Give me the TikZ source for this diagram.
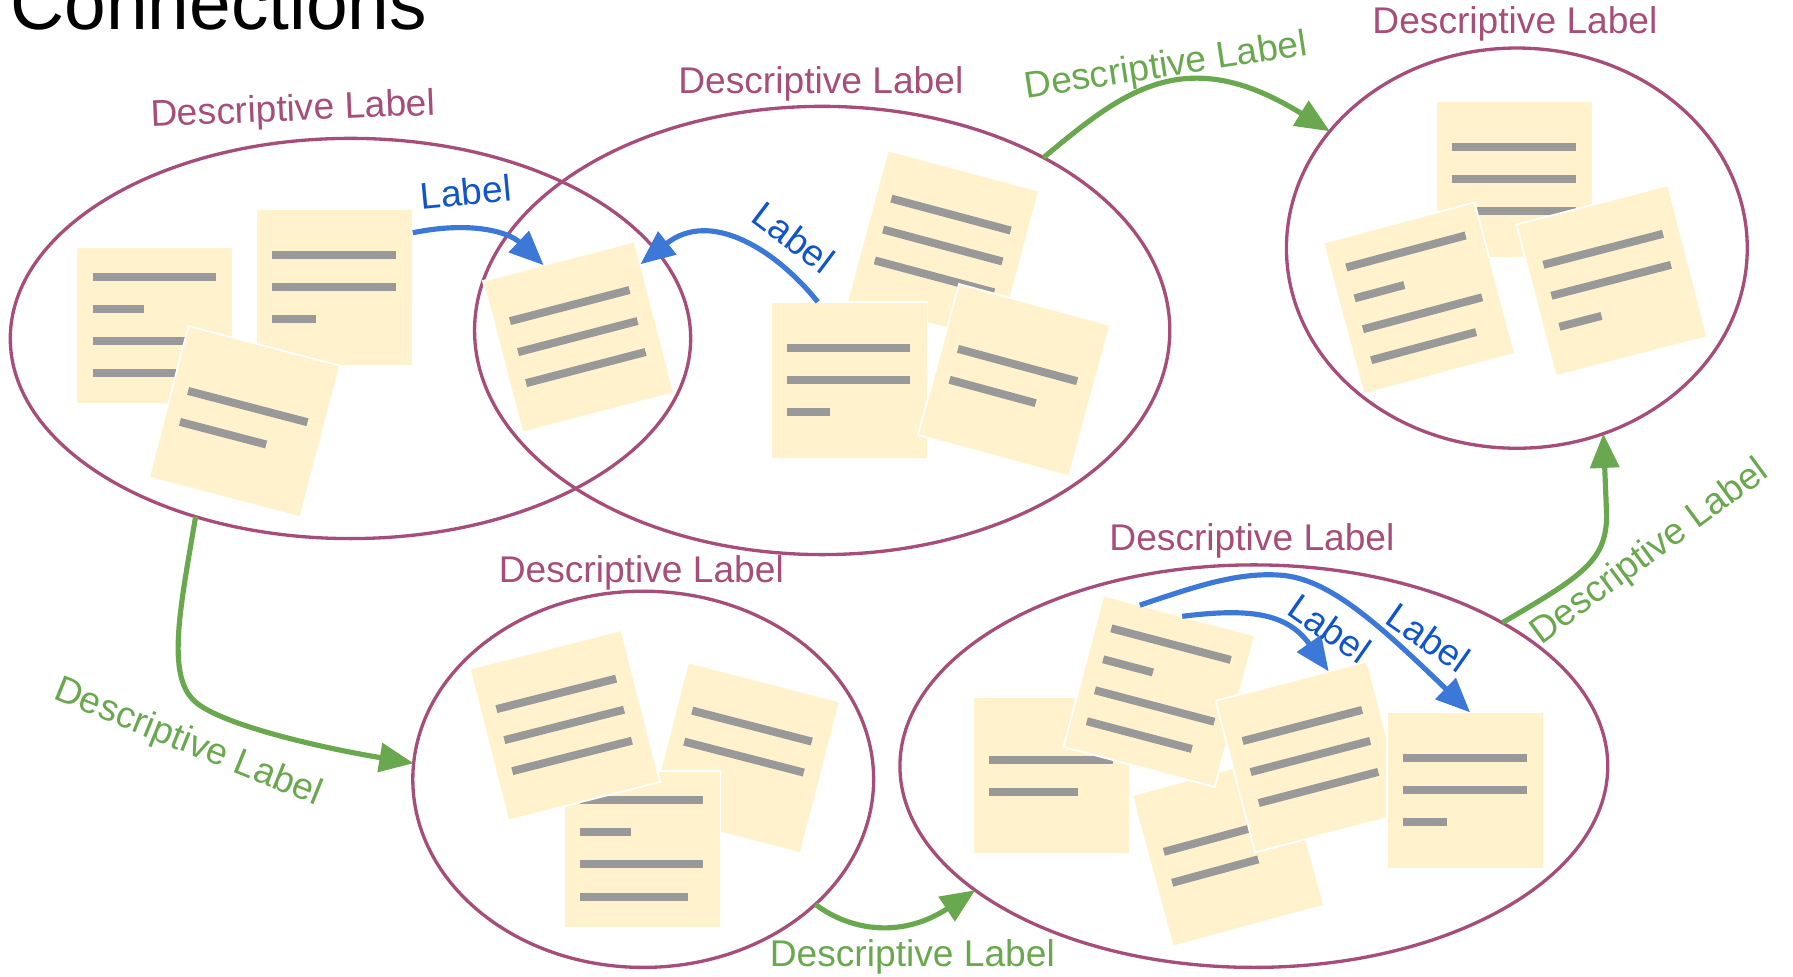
\documentclass[tikz,border=0pt]{standalone}
\usepackage{fontspec}
\setmainfont{Liberation Sans}
\usetikzlibrary{shapes.geometric,arrows.meta,calc}
\definecolor{ellc}{HTML}{A64D79}
\definecolor{grn}{HTML}{6AA84F}
\definecolor{blu}{HTML}{3C78D8}
\definecolor{blutxt}{HTML}{1155CC}
\definecolor{notefill}{HTML}{FFF2CC}
\definecolor{notegray}{HTML}{999999}

% name, cx, cy, angle, lines (offset-from-top/length)
\newcommand{\stickynote}[5]{%
  \begin{scope}[shift={(#2,#3)}, rotate=#4]
    \node[notebox, transform shape] (#1) at (0,0) {};
    \foreach \lyy/\lnn in {#5} {
      \draw[noteline] (-54.5,\lyy-68.5) -- ++(\lnn,0);
    }
  \end{scope}}

\begin{document}
\begin{tikzpicture}[x=1pt,y=-1pt,
  ell/.style={ellipse, draw=ellc, line width=2.9pt, inner sep=0pt, outer sep=0pt},
  notebox/.style={rectangle, fill=notefill, draw=white, line width=1.5pt,
    minimum width=137pt, minimum height=137pt, inner sep=0pt, outer sep=0pt},
  noteline/.style={draw=notegray, line width=7pt},
  lbl/.style={inner sep=0pt, anchor=base west, font=\fontsize{32.5}{39}\selectfont},
  elabel/.style={lbl, text=ellc},
  glabel/.style={lbl, text=grn},
  blabel/.style={lbl, text=blutxt},
  garrow/.style={draw=grn, line width=4.5pt, -{Triangle[length=30pt,width=25pt]}},
  barrow/.style={draw=blu, line width=4.5pt, -{Triangle[length=30pt,width=25pt]}}
]
\useasboundingbox (0,0) rectangle (1568,854);

% title
\node[inner sep=0pt, anchor=base west, font=\fontsize{65.5}{78}\selectfont] (title) at (9,26) {Connections};

% groups
\node[ell, minimum width=595pt, minimum height=350pt] (E1) at (306.5,296) {};
\node[ell, minimum width=608pt, minimum height=392pt] (E2) at (719,289) {};
\node[ell, minimum width=403pt, minimum height=350pt] (E3) at (1326.5,217) {};
\node[ell, minimum width=403pt, minimum height=329pt] (E4) at (562.5,681.5) {};
\node[ell, minimum width=619pt, minimum height=352pt] (E5) at (1096.5,670) {};

% group labels
\node[elabel, rotate=2.4] (L1) at (132,110.9) {Descriptive Label};
\node[elabel] (L2) at (593,81.5) {Descriptive Label};
\node[elabel] (L3) at (1200,29) {Descriptive Label};
\node[elabel] (L4) at (436,509) {Descriptive Label};
\node[elabel] (L5) at (970,481) {Descriptive Label};

% notes
\stickynote{n1a}{135.5}{284.5}{0}{26/108,54/45,82/108,110/95}
\stickynote{n1b}{292.5}{251.5}{0}{40/108,68/108,96/38}
\stickynote{n1c}{213.75}{368.75}{-14.7}{55/108,83/78}
\stickynote{n2a}{505.9}{294.7}{14.6}{40/108,68/108,96/108}
\stickynote{n2b}{824.8}{215.3}{-15}{40/108,68/108,96/108}
\stickynote{n2c}{742.5}{332.5}{0}{40/108,68/108,96/38}
\stickynote{n2d}{886.8}{332.4}{-15.2}{55/108,83/78}
\stickynote{n3a}{1324.5}{157}{0}{40/108,68/108,96/108}
\stickynote{n3b}{1241}{260.8}{15}{26/108,54/45,82/108,110/95}
\stickynote{n3c}{1409.6}{245.5}{14.5}{40/108,68/108,96/38}
\stickynote{n4b}{651}{662.7}{-14.5}{40/108,68/108}
\stickynote{n4c}{561.5}{742.5}{0}{26/108,54/45,82/108,110/95}
\stickynote{n4a}{494}{634.3}{14.3}{40/108,68/108,96/108}
\stickynote{n5a}{919.5}{678}{0}{55/108,83/78}
\stickynote{n5c}{1073.9}{743.7}{15.2}{55/108,83/78}
\stickynote{n5b}{1013.7}{604.5}{-14.8}{26/108,54/45,82/108,110/95}
\stickynote{n5d}{1146.6}{661.9}{14.6}{40/108,68/108,96/108}
\stickynote{n5e}{1281.5}{691.5}{0}{40/108,68/108,96/38}

% blue connectors
\draw[barrow] ($(n1b.north east)!0.15!(n1b.south east)$) .. controls (412,193) and (445,203) .. ($(n2a.north west)!0.4!(n2a.north east)$);
\draw[barrow] ($(n2c.north west)!0.3!(n2c.north east)$) .. controls (680,220) and (622,182) .. ($(n2a.north east)!0.15!(n2a.south east)$);
\draw[barrow] ($(n5b.north west)!0.24!(n5b.north east)$) .. controls (1040,515) and (1080,500) .. (1120,503) .. controls (1160,506) and (1200,540) .. ($(n5e.north west)!0.53!(n5e.north east)$);
\draw[barrow] ($(n5b.north west)!0.52!(n5b.north east)$) .. controls (1090,532) and (1125,535) .. ($(n5d.north west)!0.746!(n5d.north east)$);

\node[blabel, rotate=5.4] (b1) at (368.7,183.2) {Label};
\node[blabel, rotate=-37] (b2) at (655.2,192.6) {Label};
\node[blabel, rotate=-35] (b3) at (1210,544.2) {Label};
\node[blabel, rotate=-35] (b4) at (1123.6,536.1) {Label};

% green connectors
\draw[garrow] (E2.38) .. controls (980,82) and (1035,35) .. (E3.148);
\draw[garrow] (E1.229) .. controls (158,530) and (145,590) .. (170,613) .. controls (190,632) and (270,652) .. (E4.176);
\draw[garrow] (E4.324) .. controls (745,815) and (790,820) .. (E5.204);
\draw[garrow] (E5.30) .. controls (1385,503) and (1405,490) .. (1405,450) -- (E3.295);

\node[glabel, rotate=8.7] (g1) at (897.5,85.8) {Descriptive Label};
\node[glabel, rotate=-22] (g2) at (45.3,611.1) {Descriptive Label};
\node[glabel] (g3) at (673,845.4) {Descriptive Label};
\node[glabel, rotate=36.4] (g4) at (1347.5,564.3) {Descriptive Label};
\end{tikzpicture}
\end{document}
